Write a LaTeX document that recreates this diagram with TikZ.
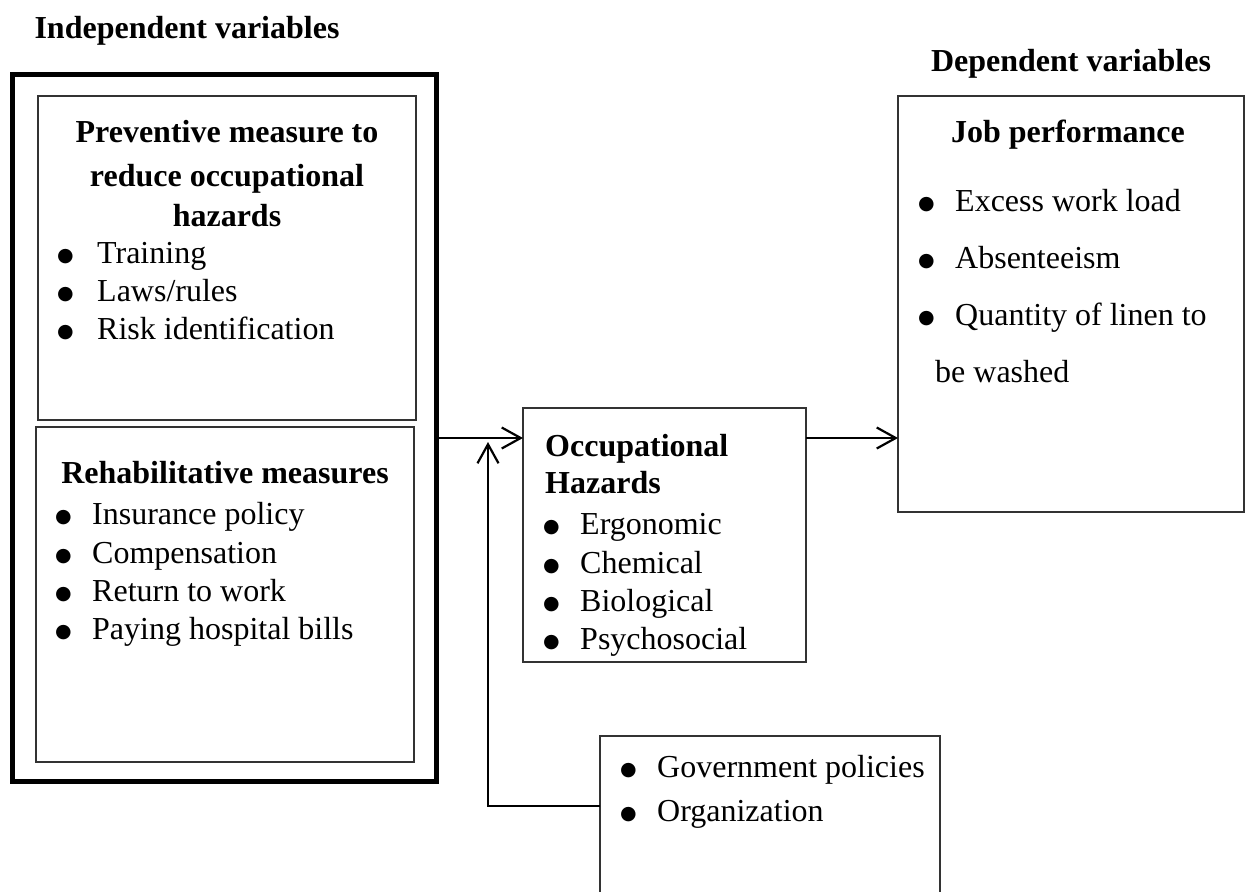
\documentclass[tikz,border=0pt]{standalone}
\usepackage{fontspec}
\setmainfont{Liberation Serif}
\newfontfamily\dotfont{DejaVu Sans}
\usetikzlibrary{arrows.meta}

\newcommand\diagfont{\fontsize{32pt}{40pt}\selectfont}
\newcommand\bul[1]{\makebox[#1][l]{\raisebox{2pt}{\fontsize{19pt}{19pt}\dotfont ●}}}

\tikzset{
    box/.style={draw=black!80, line width=1.6pt, inner sep=0pt, outer sep=0pt},
    heading/.style={font=\diagfont\bfseries, inner sep=0pt, anchor=base},
    item/.style={font=\diagfont, inner sep=0pt, anchor=base west},
    flow/.style={line width=2.2pt, -{Straight Barb[length=19pt,width=21pt,line width=2.2pt]}},
}

\begin{document}
\begin{tikzpicture}[x=1pt, y=-1pt]
    \useasboundingbox (0,0) rectangle (1249,891);

    % column titles
    \node[heading] (indeptitle) at (187,38) {Independent variables};
    \node[heading] (deptitle) at (1071,71) {Dependent variables};

    % boxes
    \node[box, draw=black, line width=5pt, minimum width=424pt, minimum height=707pt] (indep) at (224,428) {};
    \node[box, minimum width=378pt, minimum height=324pt] (prev) at (227,258) {};
    \node[box, minimum width=378pt, minimum height=335pt] (rehab) at (225,594.5) {};
    \node[box, minimum width=283pt, minimum height=254pt] (occ) at (664.5,535) {};
    \node[box, minimum width=346pt, minimum height=416pt] (job) at (1071,304) {};
    \node[box, minimum width=340pt, minimum height=170pt] (ext) at (770,821) {};

    % preventive measures
    \node[heading] (prevtitle1) at (227,142) {Preventive measure to};
    \node[heading] (prevtitle2) at (227,186) {reduce occupational};
    \node[heading] (prevtitle3) at (227,226) {hazards};
    \foreach \y/\t in {263/Training, 301/{Laws/rules}, 339/Risk identification}
        \node[item] (prev-\y) at (57,\y) {\bul{40pt}\t};

    % rehabilitative measures
    \node[heading] (rehabtitle) at (225,483) {Rehabilitative measures};
    \foreach \y/\t in {524/Insurance policy, 563/Compensation, 601/Return to work, 639/Paying hospital bills}
        \node[item] (rehab-\y) at (55,\y) {\bul{37pt}\t};

    % occupational hazards
    \node[heading, anchor=base west] (occtitle1) at (545,456) {Occupational};
    \node[heading, anchor=base west] (occtitle2) at (545,493) {Hazards};
    \foreach \y/\t in {534/Ergonomic, 573/Chemical, 611/Biological, 649/Psychosocial}
        \node[item] (occ-\y) at (543,\y) {\bul{37pt}\t};

    % job performance
    \node[heading] (jobtitle) at (1068,142) {Job performance};
    \foreach \y/\t in {211/Excess work load, 268/Absenteeism, 325/Quantity of linen to}
        \node[item] (job-\y) at (918,\y) {\bul{37pt}\t};
    \node[item] (job-382) at (935,382) {be washed};

    % external factors
    \foreach \y/\t in {777/Government policies, 821/Organization}
        \node[item] (ext-\y) at (620,\y) {\bul{37pt}\t};

    % connectors
    \coordinate (join) at (488,438);
    \coordinate (bend) at (488,806);
    \draw[flow] (indep.east |- join) -- (occ.west |- join);
    \draw[flow] (occ.east |- join) -- (job.west |- join);
    \draw[flow] (ext.west |- bend) -- (bend) -- ([yshift=-4pt]join);
\end{tikzpicture}
\end{document}
